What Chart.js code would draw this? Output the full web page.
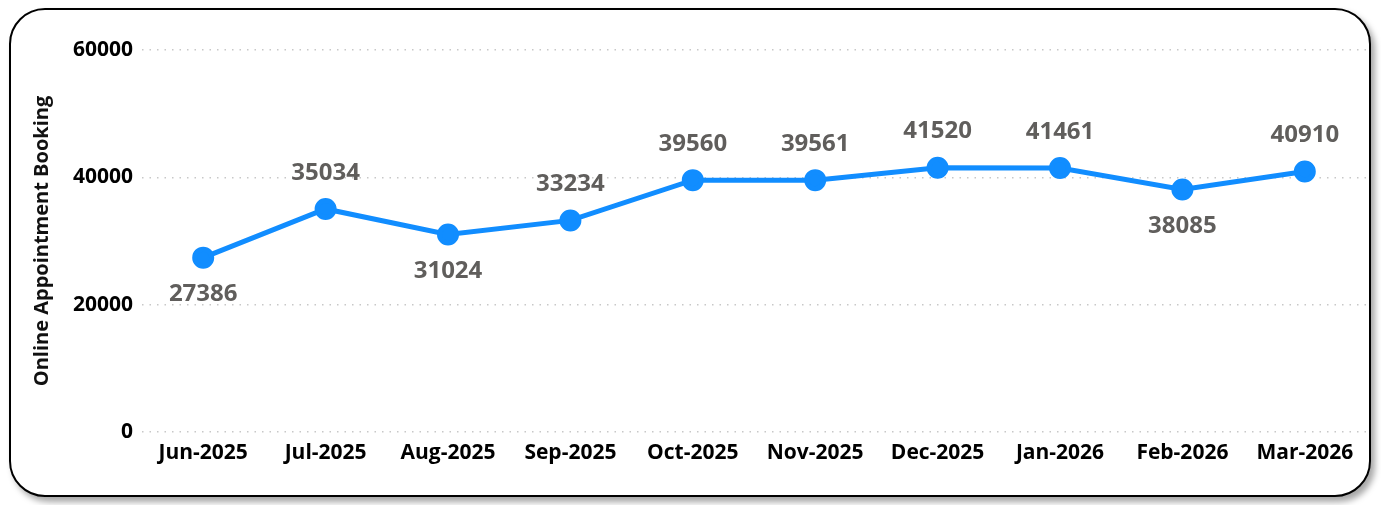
<!DOCTYPE html>
<html>
<head>
<meta charset="utf-8">
<script src="https://cdn.jsdelivr.net/npm/chart.js@4"></script>
<style>
  html, body { margin: 0; padding: 0; background: #fff; }
  body { width: 1381px; height: 505px; position: relative; overflow: hidden; }
  .card {
    position: absolute; left: 9px; top: 8px; width: 1358px; height: 485px;
    border: 2px solid #000; border-radius: 36px; background: #fff;
    box-shadow: 4px 5px 6px rgba(0,0,0,0.35);
  }
  #chart { position: absolute; left: 0; top: 0; }
</style>
</head>
<body>
<div class="card"></div>
<canvas id="chart" width="1381" height="505"></canvas>
<script>
// monthly online appointment bookings
const months = ['Jun-2025', 'Jul-2025', 'Aug-2025', 'Sep-2025', 'Oct-2025',
                'Nov-2025', 'Dec-2025', 'Jan-2026', 'Feb-2026', 'Mar-2026'];
const bookings = [27386, 35034, 31024, 33234, 39560, 39561, 41520, 41461, 38085, 40910];
const yTicks = [0, 20000, 40000, 60000];

const FONT = "'Open Sans', 'Noto Sans', sans-serif";

// value labels: below the point when it is a local low, above otherwise
const valueLabels = {
  id: 'valueLabels',
  afterDatasetsDraw(chart) {
    const ctx = chart.ctx;
    const meta = chart.getDatasetMeta(0);
    const vals = chart.data.datasets[0].data;
    ctx.save();
    ctx.font = 'bold 24px ' + FONT;
    ctx.fillStyle = '#605E5C';
    ctx.textAlign = 'center';
    ctx.textBaseline = 'middle';
    meta.data.forEach((pt, i) => {
      const prev = i > 0 ? vals[i - 1] : Infinity;
      const next = i < vals.length - 1 ? vals[i + 1] : Infinity;
      const below = vals[i] < prev && vals[i] < next;
      ctx.fillText(String(vals[i]), pt.x, below ? pt.y + 37 : pt.y - 36);
    });
    ctx.restore();
  }
};

new Chart(document.getElementById('chart'), {
  type: 'line',
  data: {
    labels: months,
    datasets: [{
      data: bookings,
      borderColor: '#118DFF',
      backgroundColor: '#118DFF',
      borderWidth: 5,
      pointRadius: 8.5,
      pointHoverRadius: 8.5,
      tension: 0,
      fill: false
    }]
  },
  options: {
    responsive: false,
    animation: false,
    layout: { padding: { top: 50, right: 15, left: 0, bottom: 0 } },
    plugins: {
      legend: { display: false },
      tooltip: { enabled: false }
    },
    scales: {
      x: {
        offset: true,
        grid: { display: false, drawTicks: false },
        border: { display: false },
        ticks: {
          color: '#000',
          padding: 8,
          maxRotation: 0,
          font: { family: FONT, size: 21, weight: 'bold' }
        },
        afterFit(scale) { scale.height = 73; }
      },
      y: {
        min: 0,
        max: 60000,
        afterBuildTicks(scale) { scale.ticks = yTicks.map(v => ({ value: v })); },
        grid: {
          color: '#C8C8C8',
          lineWidth: 1.5,
          drawTicks: false
        },
        border: { display: false, dash: [1.5, 6] },
        ticks: {
          color: '#000',
          padding: 9,
          font: { family: FONT, size: 21, weight: 'bold' },
          callback: (v) => String(v)
        },
        title: {
          display: true,
          text: 'Online Appointment Booking',
          color: '#111',
          font: { family: FONT, size: 20, weight: 'bold' },
          padding: { top: 30, bottom: 0 }
        },
        afterFit(scale) { scale.width = 142; }
      }
    }
  },
  plugins: [valueLabels]
});
</script>
</body>
</html>
